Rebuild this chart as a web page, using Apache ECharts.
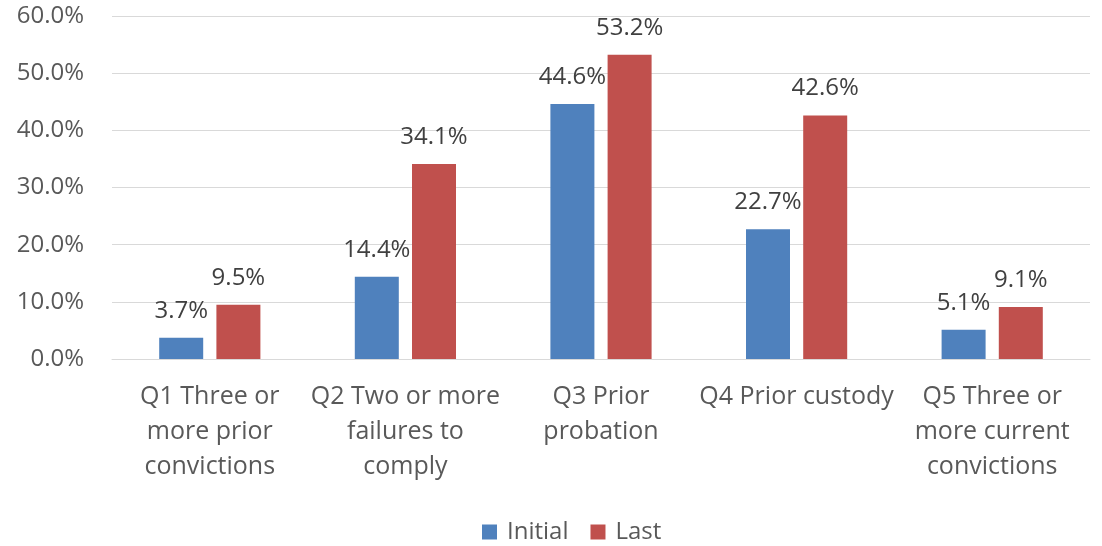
<!DOCTYPE html>
<html lang="en">
<head>
    <meta charset="UTF-8">
    <title>Initial vs Last</title>
    <script src="https://cdn.jsdelivr.net/npm/echarts@6/dist/echarts.min.js"></script>
    <style>
        html, body { margin: 0; padding: 0; background: #fff; }
        #chart { width: 1102px; height: 546px; }
    </style>
</head>
<body>
<div id="chart"></div>
<script>
    // data
    var categories = [
        'Q1 Three or\nmore prior\nconvictions',
        'Q2 Two or more\nfailures to\ncomply',
        'Q3 Prior\nprobation',
        'Q4 Prior custody',
        'Q5 Three or\nmore current\nconvictions'
    ];
    var initialValues = [3.7, 14.4, 44.6, 22.7, 5.1];
    var lastValues = [9.5, 34.1, 53.2, 42.6, 9.1];
    var seriesNames = ['Initial', 'Last'];

    var fontFam = '"Open Sans", sans-serif';

    var myChart = echarts.init(document.getElementById('chart'));
    var labelCfg = {
        show: true,
        position: 'top',
        distance: 15,
        color: '#404040',
        fontSize: 24,
        fontFamily: fontFam,
        formatter: function (p) { return p.value.toFixed(1) + '%'; }
    };
    var option = {
        animation: false,
        color: ['#4f81bd', '#c0504d'],
        grid: { left: 112, right: 12, top: 16, bottom: 187 },
        legend: {
            data: seriesNames,
            left: 477,
            top: 515,
            itemWidth: 15,
            itemHeight: 15,
            itemGap: 22,
            icon: 'rect',
            textStyle: { color: '#595959', fontSize: 24, fontFamily: fontFam, padding: [0, 0, 0, 5] }
        },
        xAxis: {
            type: 'category',
            data: categories,
            axisLine: { lineStyle: { color: '#d9d9d9', width: 1 } },
            axisTick: { show: false },
            axisLabel: {
                color: '#595959',
                fontSize: 25,
                fontFamily: fontFam,
                lineHeight: 35,
                margin: 20,
                interval: 0
            }
        },
        yAxis: {
            type: 'value',
            min: 0,
            max: 60,
            interval: 10,
            axisLine: { show: false },
            axisTick: { show: false },
            splitLine: { lineStyle: { color: '#d9d9d9', width: 1 } },
            axisLabel: {
                color: '#595959',
                fontSize: 24,
                fontFamily: fontFam,
                margin: 28,
                formatter: function (v) { return v.toFixed(1) + '%'; }
            }
        },
        series: [
            {
                name: seriesNames[0],
                type: 'bar',
                barWidth: 44,
                barGap: '30%',
                data: initialValues,
                label: labelCfg
            },
            {
                name: seriesNames[1],
                type: 'bar',
                barWidth: 44,
                barGap: '30%',
                data: lastValues,
                label: labelCfg
            }
        ]
    };
    myChart.setOption(option);
</script>
</body>
</html>
